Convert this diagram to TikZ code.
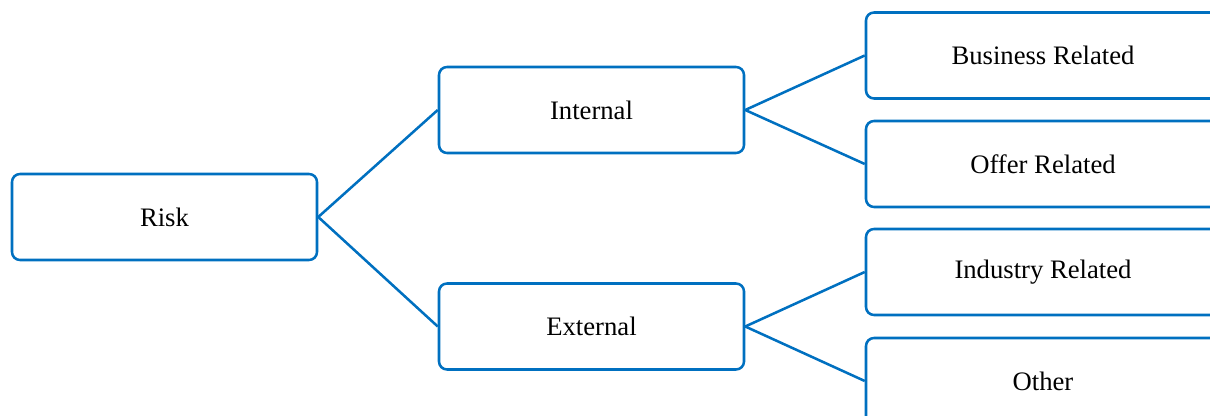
\documentclass[tikz,border=0pt]{standalone}
\usepackage{fontspec}
\setmainfont{Liberation Serif}
\usetikzlibrary{positioning}
\definecolor{riskblue}{HTML}{0070C0}
\tikzset{riskline/.style={draw=riskblue,line width=1.9pt},
  riskbox/.style={riskline,fill=white,rounded corners=6pt,minimum width=228.75pt,minimum height=64.5pt,text=black,font=\fontsize{20}{24}\selectfont,inner sep=0pt},
  leafbox/.style={riskbox,minimum width=265.5pt}}

\begin{document}
\begin{tikzpicture}[x=0.75pt,y=-0.75pt]
  \useasboundingbox (0,0) rectangle (1210,416);
  \clip (0,0) rectangle (1210,416);
  \node[riskbox] (risk) at (164.5,217) {Risk};
  \node[riskbox] (internal) at (591.5,110) {Internal};
  \node[riskbox] (external) at (591.5,326.5) {External};
  \node[leafbox] (business) at (1043,55.5) {Business Related};
  \node[leafbox] (offer) at (1043,164) {Offer Related};
  \node[leafbox] (industry) at (1043,272) {Industry Related};
  \node[leafbox] (other) at (1043,381) {Other};
  \foreach \a/\b in {risk/internal,risk/external,internal/business,internal/offer,external/industry,external/other} {
    \draw[riskline] (\a.east) -- (\b.west);
  }
\end{tikzpicture}
\end{document}
